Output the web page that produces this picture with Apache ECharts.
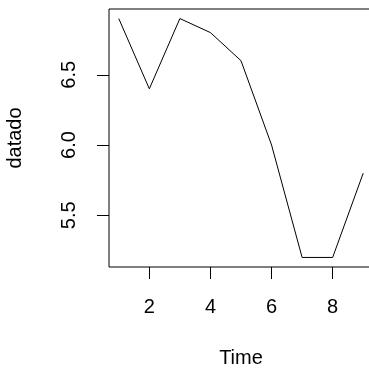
<!DOCTYPE html>
<html>
<head>
<meta charset="utf-8">
<script src="https://cdn.jsdelivr.net/npm/echarts@6/dist/echarts.min.js"></script>
<style>
html, body { margin: 0; padding: 0; background: #fff; }
#chart { width: 369px; height: 372px; }
</style>
</head>
<body>
<div id="chart"></div>
<script>
// time index and observed values
var timeIdx = [1, 2, 3, 4, 5, 6, 7, 8, 9];
var datado = [6.9, 6.4, 6.9, 6.8, 6.6, 6.0, 5.2, 5.2, 5.8];
var xTicks = [2, 4, 6, 8];
var yTicks = [5.5, 6.0, 6.5];

var pts = timeIdx.map(function (t, i) { return [t, datado[i]]; });
var font = 'Liberation Sans, Arial, sans-serif';

var myChart = echarts.init(document.getElementById('chart'));
myChart.setOption({
    animation: false,
    backgroundColor: '#fff',
    grid: {
        left: 109,
        top: 9,
        width: 264,
        height: 258,
        outerBoundsMode: 'none',
        containLabel: false,
        show: true,
        borderColor: '#000',
        borderWidth: 1,
        backgroundColor: 'transparent'
    },
    xAxis: {
        type: 'value',
        min: 0.68,
        max: 9.32,
        name: 'Time',
        nameLocation: 'middle',
        nameGap: 81,
        nameTextStyle: { fontFamily: font, fontSize: 20, color: '#000' },
        axisLine: { show: false },
        splitLine: { show: false },
        axisTick: {
            show: true, inside: false, length: 12,
            customValues: xTicks,
            lineStyle: { color: '#000', width: 1 }
        },
        axisLabel: {
            customValues: xTicks,
            margin: 30,
            fontFamily: font, fontSize: 20, color: '#000'
        }
    },
    yAxis: {
        type: 'value',
        min: 5.132,
        max: 6.968,
        name: 'datado',
        nameLocation: 'middle',
        nameRotate: 90,
        nameGap: 84,
        nameTextStyle: { fontFamily: font, fontSize: 20, color: '#000' },
        axisLine: { show: false },
        splitLine: { show: false },
        axisTick: {
            show: true, inside: false, length: 12,
            customValues: yTicks,
            lineStyle: { color: '#000', width: 1 }
        },
        axisLabel: {
            customValues: yTicks,
            rotate: 90,
            margin: 30,
            fontFamily: font, fontSize: 20, color: '#000',
            formatter: function (v) { return v.toFixed(1); }
        }
    },
    series: [
        {
            type: 'line',
            data: pts,
            symbol: 'none',
            silent: true,
            lineStyle: { color: '#000', width: 1 }
        }
    ]
});
</script>
</body>
</html>
